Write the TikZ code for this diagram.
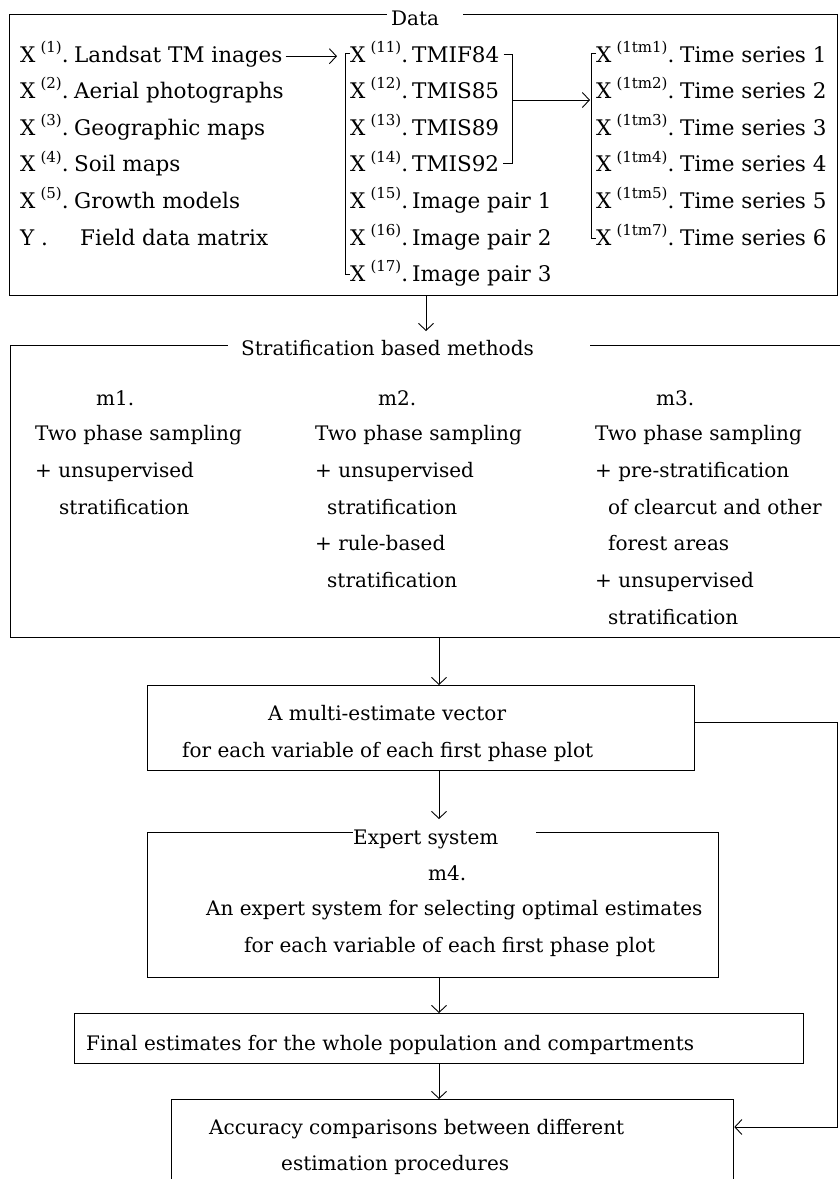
\documentclass[tikz,border=0pt]{standalone}
\usepackage{fontspec}
\setmainfont{DejaVu Serif}
\usetikzlibrary{arrows.meta}
\newcommand{\txtf}{\fontsize{20}{24}\selectfont}
\newcommand{\datf}{\fontsize{21.5}{25}\selectfont}
\newcommand{\supf}{\fontsize{15}{16}\selectfont}
\newcommand{\xl}[1]{X\hspace{5pt}\raisebox{0.45em}{\supf(#1)}.}
\begin{document}
\begin{tikzpicture}[x=1pt,y=-1pt,
  box/.style={draw,line width=1.3pt,inner sep=0pt,anchor=north west},
  ttl/.style={fill=white,inner sep=0pt,anchor=west,font=\txtf,text height=15pt,text depth=5pt},
  txt/.style={inner sep=0pt,anchor=base west,font=\txtf},
  dtxt/.style={inner sep=0pt,anchor=base west,font=\datf},
  conn/.style={line width=0.9pt,-{Straight Barb[length=7pt,width=15pt,line width=0.9pt]}},
  brk/.style={line width=1pt}]
\useasboundingbox (0,0) rectangle (840,1179);

% ---------------- Data box ----------------
\node[box,minimum width=828,minimum height=281] (data) at (9,14) {};
\node[ttl] (datat) at (387,20) {\kern4pt Data\kern24pt\mbox{}};

% left column
\node[dtxt] (l1) at (20,62) {\xl{1}};
\node[dtxt] (t1) at (74,62) {Landsat TM inages};
\node[dtxt] (l2) at (20,98.6) {\xl{2}};
\node[dtxt] (t2) at (74,98.6) {Aerial photographs};
\node[dtxt] (l3) at (20,135.2) {\xl{3}};
\node[dtxt] (t3) at (74,135.2) {Geographic maps};
\node[dtxt] (l4) at (20,171.8) {\xl{4}};
\node[dtxt] (t4) at (74,171.8) {Soil maps};
\node[dtxt] (l5) at (20,208.4) {\xl{5}};
\node[dtxt] (t5) at (74,208.4) {Growth models};
\node[dtxt] (l6) at (20,245) {Y .};
\node[dtxt] (t6) at (80,245) {Field data matrix};

% middle column
\node[dtxt] (m1) at (350,62) {\xl{11}};
\node[dtxt] (n1) at (412,62) {TMIF84};
\node[dtxt] (m2) at (350,98.6) {\xl{12}};
\node[dtxt] (n2) at (412,98.6) {TMIS85};
\node[dtxt] (m3) at (350,135.2) {\xl{13}};
\node[dtxt] (n3) at (412,135.2) {TMIS89};
\node[dtxt] (m4) at (350,171.8) {\xl{14}};
\node[dtxt] (n4) at (412,171.8) {TMIS92};
\node[dtxt] (m5) at (350,208.4) {\xl{15}};
\node[dtxt] (n5) at (412,208.4) {Image pair 1};
\node[dtxt] (m6) at (350,245) {\xl{16}};
\node[dtxt] (n6) at (412,245) {Image pair 2};
\node[dtxt] (m7) at (350,281.6) {\xl{17}};
\node[dtxt] (n7) at (412,281.6) {Image pair 3};

% right column
\node[dtxt] (r1) at (596,62) {\xl{1tm1}};
\node[dtxt] (s1) at (680,62) {Time series 1};
\node[dtxt] (r2) at (596,98.6) {\xl{1tm2}};
\node[dtxt] (s2) at (680,98.6) {Time series 2};
\node[dtxt] (r3) at (596,135.2) {\xl{1tm3}};
\node[dtxt] (s3) at (680,135.2) {Time series 3};
\node[dtxt] (r4) at (596,171.8) {\xl{1tm4}};
\node[dtxt] (s4) at (680,171.8) {Time series 4};
\node[dtxt] (r5) at (596,208.4) {\xl{1tm5}};
\node[dtxt] (s5) at (680,208.4) {Time series 5};
\node[dtxt] (r6) at (596,245) {\xl{1tm7}};
\node[dtxt] (s6) at (680,245) {Time series 6};

% connectors inside data box
\coordinate (aTip) at (337,0);
\draw[conn] ([xshift=3pt]t1.east) -- (t1.east -| aTip);
\draw[brk] ([yshift=9pt]m1.base west) -- ++(-5,0) |- ([yshift=7pt]m7.base west);
\coordinate (mb) at (512,100);
\coordinate (rb) at (590,100);
\draw[brk] ([xshift=4pt]n1.east) -- (n1.east -| mb) -- (n4.east -| mb) -- ([xshift=4pt]n4.east);
\draw[conn] (mb) -- (rb);
\draw[brk] ([yshift=9pt]r1.base west) -- ++(-5,0) |- ([yshift=7pt]r6.base west);

% ---------------- Stratification box ----------------
\node[box,minimum width=850,minimum height=292] (strat) at (10,345) {};
\node[ttl] (stt) at (228,350) {\kern13pt Stratification based methods\kern56pt\mbox{}};
\coordinate (dTip) at (426,331);
\draw[conn] (data.south -| dTip) -- (dTip);

\node[txt] (c1a) at (96,405) {m1.};
\node[txt] (c1b) at (35,440) {Two phase sampling};
\node[txt] (c1c) at (35,477) {+ unsupervised};
\node[txt] (c1d) at (59,514) {stratification};

\node[txt] (c2a) at (378,405) {m2.};
\node[txt] (c2b) at (315,440) {Two phase sampling};
\node[txt] (c2c) at (315,477) {+ unsupervised};
\node[txt] (c2d) at (327,514) {stratification};
\node[txt] (c2e) at (315,550) {+ rule-based};
\node[txt] (c2f) at (327,587) {stratification};

\node[txt] (c3a) at (656,405) {m3.};
\node[txt] (c3b) at (595,440) {Two phase sampling};
\node[txt] (c3c) at (595,477) {+ pre-stratification};
\node[txt] (c3d) at (608,514) {of clearcut and other};
\node[txt] (c3e) at (608,550) {forest areas};
\node[txt] (c3f) at (595,587) {+ unsupervised};
\node[txt] (c3g) at (608,624) {stratification};

% ---------------- Multi-estimate box ----------------
\node[box,minimum width=547,minimum height=85] (multi) at (147,685) {};
\node[txt] (mu1) at (268,720) {A multi-estimate vector};
\node[txt] (mu2) at (182,757) {for each variable of each first phase plot};

% ---------------- Expert box ----------------
\node[box,minimum width=571,minimum height=145] (expert) at (147,832) {};
\node[ttl] (ext) at (353,839) {Expert system\kern38pt\mbox{}};
\node[txt] (ex1) at (428,880) {m4.};
\node[txt] (ex2) at (206,915) {An expert system for selecting optimal estimates};
\node[txt] (ex3) at (244,952) {for each variable of each first phase plot};

% ---------------- Final box ----------------
\node[box,minimum width=729,minimum height=50] (final) at (74,1013) {};
\node[txt] (fi1) at (86,1050) {Final estimates for the whole population and compartments};

% ---------------- Accuracy box ----------------
\node[box,minimum width=562,minimum height=130] (acc) at (171,1099) {};
\node[txt] (ac1) at (209,1134) {Accuracy comparisons between different};
\node[txt] (ac2) at (281,1170) {estimation procedures};

% ---------------- main connectors ----------------
\coordinate (cx) at (439,0);
\coordinate (eTop) at (439,819);
\draw[conn] (strat.south -| cx) -- (multi.north -| cx);
\draw[conn] (multi.south -| cx) -- (eTop);
\draw[conn] (expert.south -| cx) -- (final.north -| cx);
\draw[conn] (final.south -| cx) -- (acc.north -| cx);
\coordinate (fb) at (837,722);
\coordinate (fb2) at (837,1127);
\draw[conn] (multi.east |- fb) -- (fb) -- (fb2) -- (acc.east |- fb2);
\end{tikzpicture}
\end{document}
